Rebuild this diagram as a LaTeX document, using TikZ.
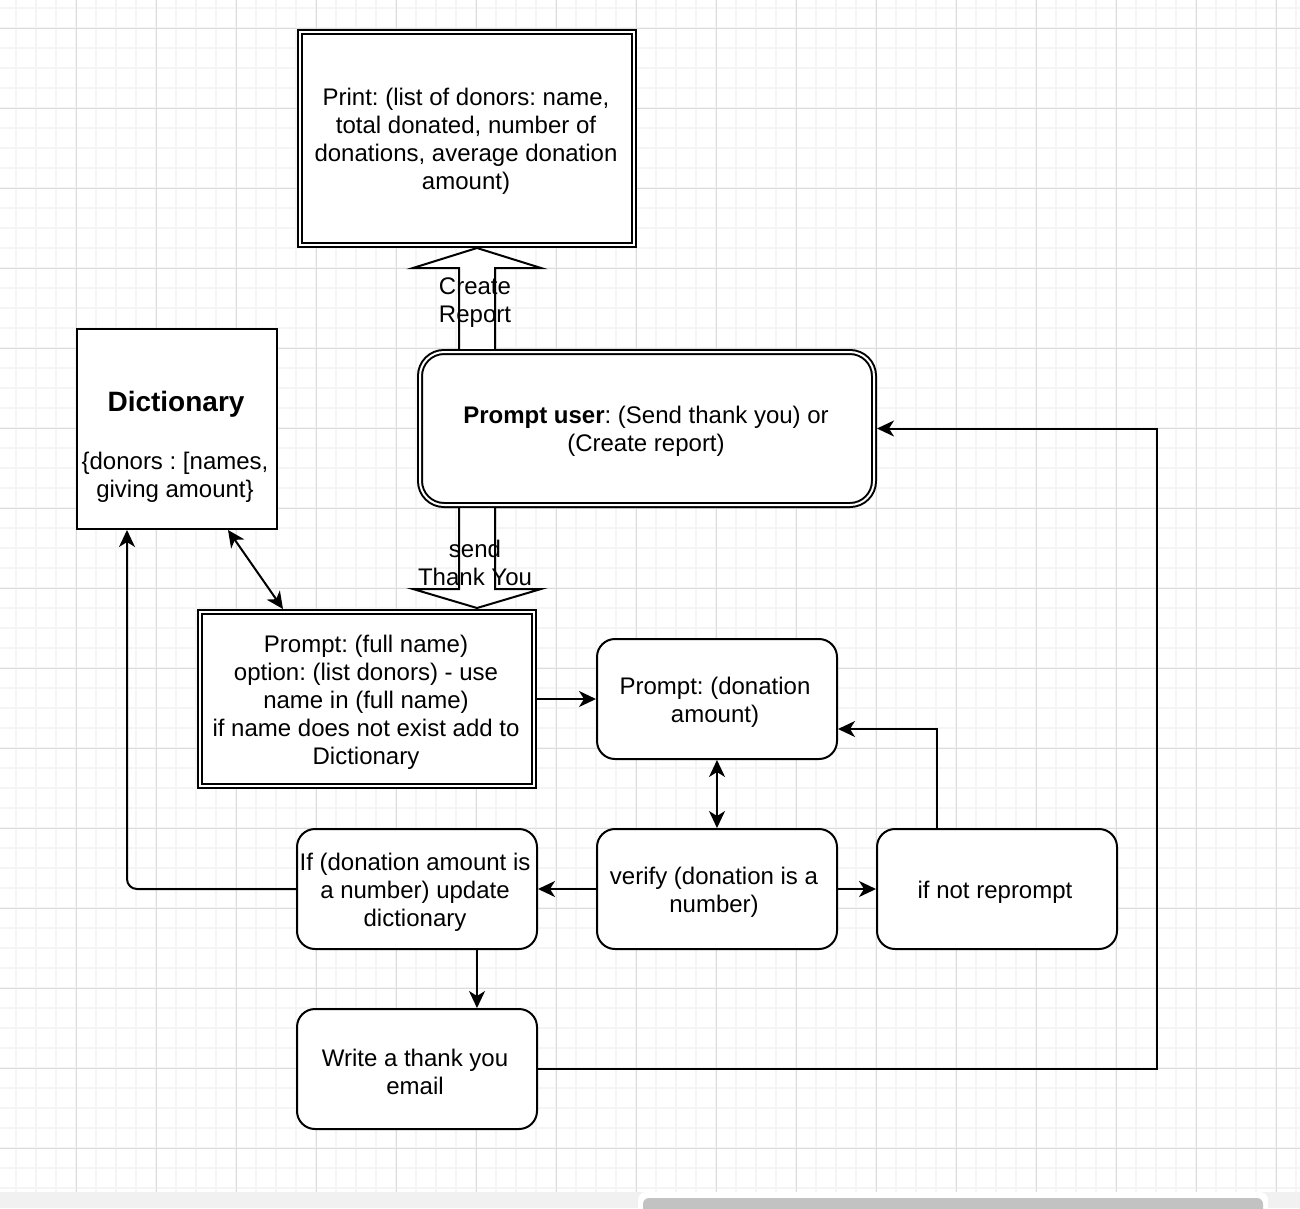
\documentclass[tikz,border=0pt]{standalone}
\usepackage{fontspec}
\setmainfont{Liberation Sans}
\usetikzlibrary{arrows.meta,calc}
\definecolor{gridminor}{HTML}{F5F5F5}
\definecolor{gridmajor}{HTML}{DCDCDC}
\definecolor{barbg}{HTML}{F1F1F1}
\definecolor{thumbc}{HTML}{C2C2C2}
\begin{document}
\begin{tikzpicture}[x=1pt,y=-1pt,
  txt/.style={font=\fontsize{24pt}{28pt}\selectfont\frenchspacing, align=center, inner sep=0pt},
  lbl/.style={txt, yshift=-3pt},
  box/.style={draw, line width=2pt, fill=white, inner sep=0pt, outer sep=1pt},
  rbox/.style={box, rounded corners=18pt, minimum width=240pt, minimum height=120pt},
  dbox/.style={draw, line width=2pt, double, double distance=2pt, fill=white, inner sep=0pt, outer sep=3pt},
  arr/.style={line width=2pt, -{Stealth[length=17pt,width=16pt,inset=5pt]}},
  arrb/.style={line width=2pt, {Stealth[length=17pt,width=16pt,inset=5pt]}-{Stealth[length=17pt,width=16pt,inset=5pt]}},
  blockarrow/.style={line width=2pt, fill=white, line join=miter},
]
\useasboundingbox (0,0) rectangle (1300,1208);
\clip (0,0) rectangle (1300,1208);
\fill[white] (0,0) rectangle (1300,1208);
% grid
\foreach \x in {16,36,...,1296} \draw[gridminor, line width=1.5pt] (\x,0) -- (\x,1192);
\foreach \y in {8,28,...,1188} \draw[gridminor, line width=1.5pt] (0,\y) -- (1300,\y);
\foreach \x in {76,156,...,1276} \draw[gridmajor, line width=1pt] (\x,0) -- (\x,1192);
\foreach \y in {28,108,...,1148} \draw[gridmajor, line width=1pt] (0,\y) -- (1300,\y);
% bottom bar
\fill[barbg] (0,1192) rectangle (1300,1208);
\fill[white, rounded corners=8pt] (638,1192) rectangle (1268,1222);
\fill[thumbc, rounded corners=6pt] (643,1198) rectangle (1263,1220);

% boxes drawn before the block arrows
\node[dbox, minimum width=334pt, minimum height=213pt] (print) at (467,138.5) {};
\node[dbox, minimum width=334pt, minimum height=174pt] (fullname) at (367,699) {};

% block arrows
\coordinate (upTip) at ([xshift=10pt]print.south);
\draw[blockarrow] (upTip) -- ++(64,20) -- ++(-46,0) -- ++(0,90) -- ++(-36,0) -- ++(0,-90) -- ++(-46,0) -- cycle;
\coordinate (downTip) at ([xshift=110pt,yshift=1pt]fullname.north);
\draw[blockarrow] (downTip) -- ++(64,-19) -- ++(-46,0) -- ++(0,-90) -- ++(-36,0) -- ++(0,90) -- ++(-46,0) -- cycle;

% remaining boxes
\node[dbox, rounded corners=24pt, minimum width=454pt, minimum height=153pt] (pu) at (647,428.5) {};
\node[box, minimum width=200pt, minimum height=200pt] (dict) at (177,429) {};
\node[rbox] (donation) at (717,699) {};
\node[rbox] (verify) at (717,889) {};
\node[rbox] (reprompt) at (997,889) {};
\node[rbox] (ifnum) at (417,889) {};
\node[rbox] (email) at (417,1069) {};

% texts
\node[lbl] (printtext) at ([xshift=-1pt]print) {Print: (list of donors: name,\\total donated, number of\\donations, average donation\\amount)};
\node[lbl] (putext) at ([xshift=-1pt]pu) {\textbf{Prompt user}: (Send thank you) or\\(Create report)};
\node[txt, font=\fontsize{28pt}{34pt}\selectfont\bfseries] (dicttitle) at (176,404) {Dictionary};
\node[txt] (dictbody) at (175,477) {\{donors : [names,\\giving amount\}};
\node[lbl] (fullnametext) at ([xshift=-1pt]fullname) {Prompt: (full name)\\option: (list donors) - use\\name in (full name)\\if name does not exist add to\\Dictionary};
\node[lbl] (donationtext) at ([xshift=-2pt]donation) {Prompt: (donation\\amount)};
\node[lbl] (verifytext) at ([xshift=-3pt]verify) {verify (donation is a\\number)};
\node[lbl] (reprompttext) at ([xshift=-2pt]reprompt) {if not reprompt};
\node[lbl] (ifnumtext) at ([xshift=-2pt]ifnum) {If (donation amount is\\a number) update\\dictionary};
\node[lbl] (emailtext) at ([xshift=-2pt]email) {Write a thank you\\email};

% labels on block arrows
\node[txt] (createlbl) at (475,303) {Create\\Report};
\node[txt] (sendlbl) at (475,563) {send\\Thank You};

% connectors
\draw[arr] (fullname.east) -- (donation.west);
\draw[arrb] (donation.south) -- (verify.north);
\draw[arr] (verify.west) -- (ifnum.east);
\draw[arr] (verify.east) -- (reprompt.west);
\draw[arr] ([xshift=-60pt]reprompt.north) |- ([yshift=-30pt]donation.east);
\draw[arr, rounded corners=10pt] (ifnum.west) -| ([xshift=-50pt]dict.south);
\draw[arr] ([xshift=60pt]ifnum.south) -- ([xshift=60pt]email.north);
\draw[arr] (email.east) -| ([xshift=280pt]pu.east) -- (pu.east);
\draw[arrb] ([xshift=51pt]dict.south) -- ([xshift=-84pt]fullname.north);
\end{tikzpicture}
\end{document}
